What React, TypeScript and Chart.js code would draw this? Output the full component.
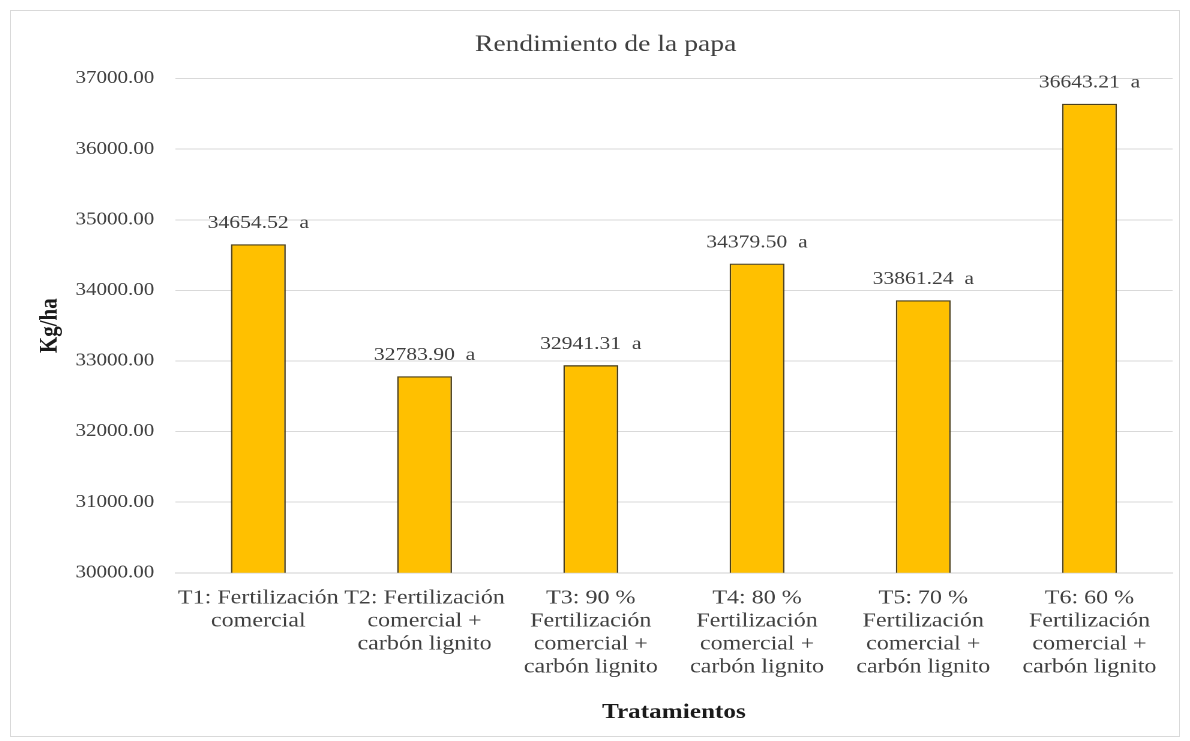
import React, { useEffect, useRef } from "react";
import { Chart, registerables } from "chart.js";

Chart.register(...registerables);

const chartTitle = "Rendimiento de la papa";
const categories: string[][] = [
  ["T1: Fertilización", "comercial"],
  ["T2: Fertilización", "comercial +", "carbón lignito"],
  ["T3: 90 %", "Fertilización", "comercial +", "carbón lignito"],
  ["T4: 80 %", "Fertilización", "comercial +", "carbón lignito"],
  ["T5: 70 %", "Fertilización", "comercial +", "carbón lignito"],
  ["T6: 60 %", "Fertilización", "comercial +", "carbón lignito"],
];
const yields: number[] = [34654.52, 32783.9, 32941.31, 34379.5, 33861.24, 36643.21];
const groups: string[] = ["a", "a", "a", "a", "a", "a"];

const SERIF = "'Liberation Serif', 'Times New Roman', serif";

// The drawing is laid out narrower and widened with CSS, giving the wide serif lettering.
const STRETCH = 1.2;
const OUTER_W = 1168;
const OUTER_H = 725;
const CANVAS_W = Math.round(OUTER_W / STRETCH);
const TITLE_BAND = 67.6;

// Chart title, centred a little right of the canvas middle, in the band kept free at the top.
const titleText = {
  id: "titleText",
  afterDraw(chart: any) {
    const ctx = chart.ctx;
    ctx.save();
    ctx.font = `normal 23px ${SERIF}`;
    ctx.fillStyle = "#404040";
    ctx.textAlign = "center";
    ctx.textBaseline = "middle";
    ctx.fillText(chartTitle, chart.width / 2 + 9, 34);
    ctx.restore();
  },
};

// Value and significance group above each bar.
const valueLabels = {
  id: "valueLabels",
  afterDatasetsDraw(chart: any) {
    const ctx = chart.ctx;
    const meta = chart.getDatasetMeta(0);
    ctx.save();
    ctx.font = `normal 18px ${SERIF}`;
    ctx.fillStyle = "#404040";
    ctx.textAlign = "center";
    ctx.textBaseline = "middle";
    meta.data.forEach((bar: any, i: number) => {
      const text = `${yields[i].toFixed(2)}  ${groups[i]}`;
      ctx.fillText(text, bar.x, bar.y - 21);
    });
    ctx.restore();
  },
};

export default function App() {
  const ref = useRef<HTMLCanvasElement | null>(null);

  useEffect(() => {
    if (!ref.current) return;
    const chart = new Chart(ref.current, {
      type: "bar",
      data: {
        labels: categories,
        datasets: [
          {
            data: yields,
            backgroundColor: "#FFC000",
            borderColor: "#4a3f1c",
            borderWidth: 1.3,
            categoryPercentage: 1,
            barPercentage: 0.33,
          },
        ],
      },
      options: {
        responsive: false,
        animation: false,
        devicePixelRatio: 2,
        layout: { padding: { left: 8, right: 5, top: TITLE_BAND, bottom: 11 } },
        plugins: {
          legend: { display: false },
          tooltip: { enabled: false },
          title: { display: false },
        },
        scales: {
          x: {
            grid: { display: false, drawTicks: false },
            border: { display: true, color: "#d0d0d0" },
            ticks: {
              color: "#404040",
              font: { family: SERIF, size: 20, weight: "normal", lineHeight: 1.15 },
              padding: 14,
              maxRotation: 0,
              autoSkip: false,
            },
            title: {
              display: true,
              text: "Tratamientos",
              color: "#1a1a1a",
              font: { family: SERIF, size: 21, weight: "bold" },
              padding: { top: 7, bottom: 0 },
            },
          },
          y: {
            min: 30000,
            max: 37000,
            grid: { color: "#d9d9d9", drawTicks: false },
            border: { display: false },
            ticks: {
              stepSize: 1000,
              color: "#404040",
              font: { family: SERIF, size: 17.5, weight: "normal" },
              padding: 17.5,
              callback: (v: any) => Number(v).toFixed(2),
            },
            title: {
              display: true,
              text: "Kg/ha",
              color: "#1a1a1a",
              font: { family: SERIF, size: 21, weight: "bold" },
              padding: { top: 12, bottom: -9 },
            },
          },
        },
      },
      plugins: [valueLabels, titleText],
    });
    return () => chart.destroy();
  }, []);

  return (
    <div
      style={{
        marginLeft: 2,
        marginTop: 2,
        width: OUTER_W,
        height: OUTER_H,
        border: "1px solid #d9d9d9",
        background: "#fff",
        overflow: "hidden",
      }}
    >
      <div style={{ transform: `scaleX(${STRETCH})`, transformOrigin: "0 0", width: CANVAS_W }}>
        <canvas
          ref={ref}
          width={CANVAS_W}
          height={OUTER_H}
          style={{ display: "block", width: CANVAS_W, height: OUTER_H }}
        />
      </div>
    </div>
  );
}
